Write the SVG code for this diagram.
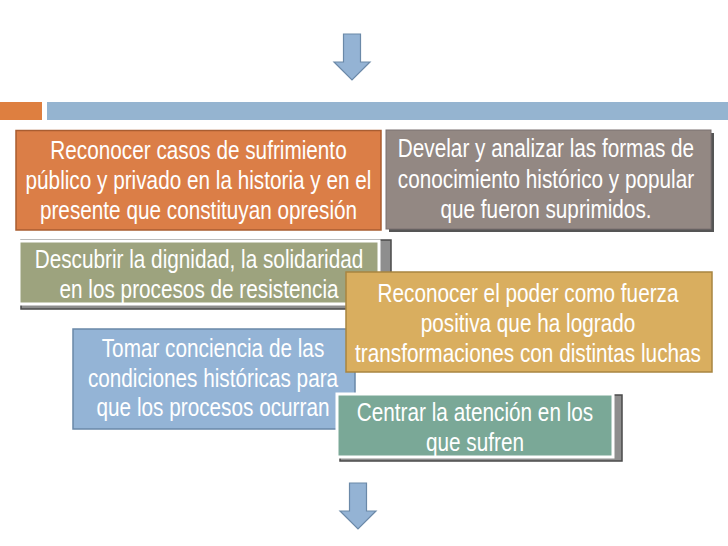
<svg xmlns="http://www.w3.org/2000/svg" width="728" height="546" viewBox="0 0 728 546">
<style>
  text { font-family: "Liberation Sans", Arial, sans-serif; font-size: 25px; fill: #ffffff; text-anchor: middle; }
  .shadow { fill: #8e8e8e; stroke: #4a4a4a; stroke-width: 1.5; }
  .arrow { fill: #94b3d4; stroke: #6b89a8; stroke-width: 1.2; }
</style>
<rect width="728" height="546" fill="#ffffff"/>
<g id="connectors">
  <path class="arrow" d="M343.5 34 H360.5 V62 H370 L352 80 L334 62 H343.5 Z"/>
  <path class="arrow" d="M349.5 483 H366.5 V511 H376 L358 529 L340 511 H349.5 Z"/>
</g>
<g id="header-bar">
  <rect x="0" y="102" width="42" height="18" fill="#de7f40"/>
  <rect x="47" y="102" width="681" height="18" fill="#95b4d0"/>
</g>
<g id="node-tomar">
  <rect x="73" y="329" width="282" height="100" fill="#94b4d6" stroke="#6a88a8" stroke-width="1.5"/>
  <g transform="translate(213,0) scale(0.83,1)">
    <text x="0" y="357">Tomar conciencia de las</text>
    <text x="0" y="387">condiciones históricas para</text>
    <text x="0" y="416">que los procesos ocurran</text>
  </g>
</g>
<g id="node-reconocer-casos">
  <rect x="16" y="130.5" width="365" height="99.5" fill="#db7e47" stroke="#a95d31" stroke-width="1.5"/>
  <g transform="translate(198.5,0) scale(0.83,1)">
    <text x="0" y="159" fill="#fff8ef">Reconocer casos de sufrimiento</text>
    <text x="0" y="189">público y privado en la historia y en el</text>
    <text x="0" y="219">presente que constituyan opresión</text>
  </g>
</g>
<g id="node-develar">
  <rect x="389" y="133" width="325" height="99" fill="#555555"/>
  <rect x="386" y="130" width="325" height="99" fill="#938883" stroke="#7a7070" stroke-width="1"/>
  <g transform="translate(546,0) scale(0.83,1)">
    <text x="0" y="157">Develar y analizar las formas de</text>
    <text x="0" y="188">conocimiento histórico y popular</text>
    <text x="0" y="218">que fueron suprimidos.</text>
  </g>
</g>
<g id="node-descubrir">
  <rect class="shadow" x="21" y="240" width="370" height="69"/>
  <rect x="19" y="241" width="360" height="63" fill="#9da37e" stroke="#ffffff" stroke-width="3"/>
  <g transform="translate(199,0) scale(0.83,1)">
    <text x="0" y="268">Descubrir la dignidad, la solidaridad</text>
    <text x="0" y="298">en los procesos de resistencia</text>
  </g>
</g>
<g id="node-reconocer-poder">
  <rect x="346" y="272" width="366" height="100" fill="#d9ae5f" stroke="#a88540" stroke-width="1.5"/>
  <g transform="translate(528,0) scale(0.83,1)">
    <text x="0" y="302">Reconocer el poder como fuerza</text>
    <text x="0" y="332">positiva que ha logrado</text>
    <text x="0" y="362">transformaciones con distintas luchas</text>
  </g>
</g>
<g id="node-centrar">
  <rect class="shadow" x="340" y="395" width="282" height="66"/>
  <rect x="337" y="394" width="276" height="63" fill="#7aa897" stroke="#ffffff" stroke-width="3"/>
  <g transform="translate(475,0) scale(0.83,1)">
    <text x="0" y="421">Centrar la atención en los</text>
    <text x="0" y="451">que sufren</text>
  </g>
</g>
</svg>
